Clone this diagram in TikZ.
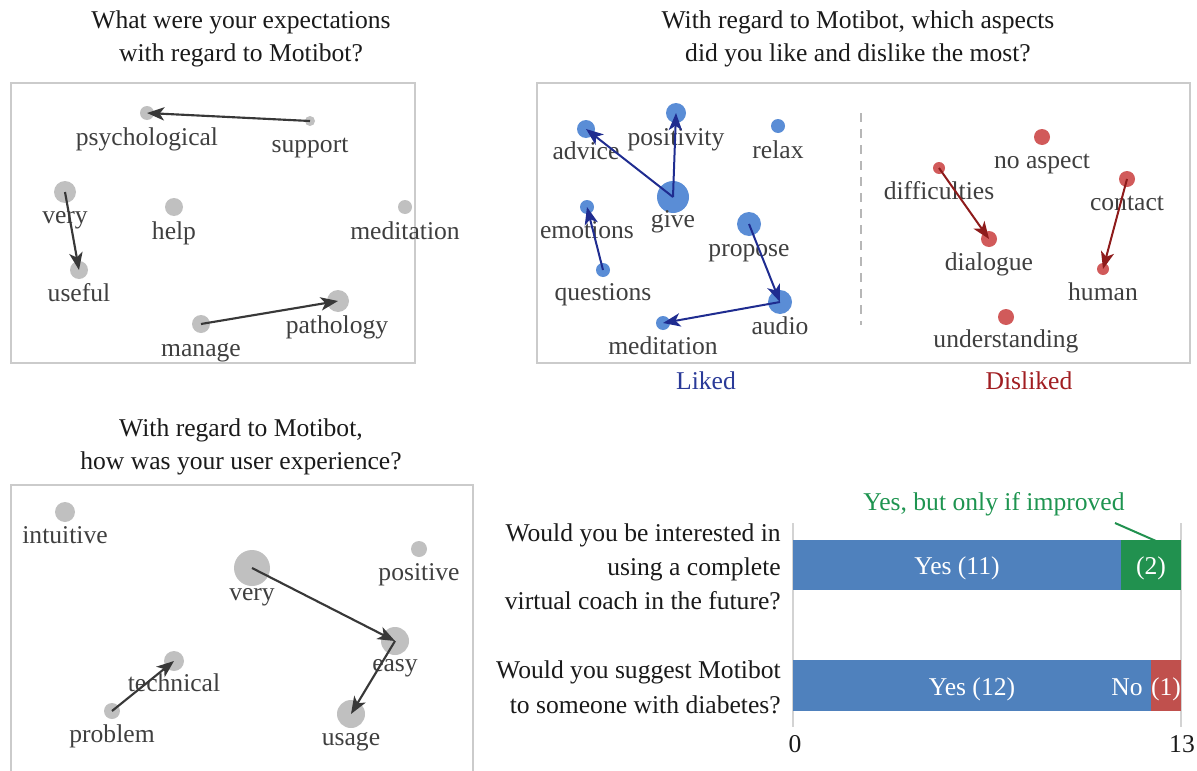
\documentclass[tikz,border=0pt]{standalone}
\usepackage{fontspec}
\setmainfont{Liberation Serif}
\usetikzlibrary{arrows.meta}
\definecolor{titlec}{HTML}{1A1A1A}
\definecolor{labelc}{HTML}{3F3F3F}
\definecolor{dotgray}{HTML}{C0C0C0}
\definecolor{arrgray}{HTML}{383838}
\definecolor{likedot}{HTML}{5A8DD6}
\definecolor{likearr}{HTML}{1F2C90}
\definecolor{likedtxt}{HTML}{2A3A98}
\definecolor{dislikedot}{HTML}{D15A5A}
\definecolor{dislikearr}{HTML}{8E1B1B}
\definecolor{dislikedtxt}{HTML}{A11E22}
\definecolor{boxc}{HTML}{CBCBCB}
\definecolor{barblue}{HTML}{4F81BD}
\definecolor{bargreen}{HTML}{21914F}
\definecolor{barred}{HTML}{C0504D}
\definecolor{greentxt}{HTML}{1E9450}
\definecolor{axisc}{HTML}{D3D3D3}
\newcommand\myfs{\fontsize{19.2pt}{24pt}\selectfont}
\begin{document}
\begin{tikzpicture}[x=0.75pt,y=-0.75pt,
  txt/.style={font=\myfs, inner sep=0pt, text height=0.69em, text depth=0.22em},
  ctxt/.style={txt, yshift=-3.6pt},
  ttl/.style={txt, text=titlec, anchor=base},
  lbl/.style={ctxt, text=labelc},
  qst/.style={txt, text=titlec, anchor=base east},
  wtxt/.style={ctxt, text=white},
  panel/.style={draw=boxc, line width=1.1pt},
  gdot/.style={circle, fill=dotgray, inner sep=0pt, minimum size=#1*1.5pt},
  ldot/.style={circle, fill=likedot, inner sep=0pt, minimum size=#1*1.5pt},
  ddot/.style={circle, fill=dislikedot, inner sep=0pt, minimum size=#1*1.5pt},
  tip/.style={-{Stealth[length=13pt,width=10pt,inset=3.5pt]}},
  garr/.style={draw=arrgray, line width=1.6pt, tip},
  larr/.style={draw=likearr, line width=1.5pt, tip},
  darr/.style={draw=dislikearr, line width=1.5pt, tip},
]
\useasboundingbox (0,0) rectangle (1197,771);

% ---------------- Titles ----------------
\node[ttl] (t1a) at (241,28) {What were your expectations};
\node[ttl] (t1b) at (241,61) {with regard to Motibot?};
\node[ttl] (t2a) at (858,28) {With regard to Motibot, which aspects};
\node[ttl] (t2b) at (858,61) {did you like and dislike the most?};
\node[ttl] (t3a) at (241,436) {With regard to Motibot,};
\node[ttl] (t3b) at (241,469) {how was your user experience?};

% ---------------- Panel 1: expectations ----------------
\draw[panel] (11,83) rectangle (415,363);
\node[gdot=7]  (p1psy)  at (147,113) {};
\node[gdot=5]  (p1sup)  at (310,121) {};
\node[gdot=11] (p1very) at (65,192) {};
\node[gdot=9]  (p1help) at (174,207) {};
\node[gdot=7]  (p1med)  at (405,207) {};
\node[gdot=9]  (p1use)  at (79,270) {};
\node[gdot=9]  (p1man)  at (201,324) {};
\node[gdot=11] (p1path) at (338,301) {};
\node[lbl] (l1psy)  at (147,138) {psychological};
\node[lbl] (l1sup)  at (310,145) {support};
\node[lbl] (l1very) at (65,216) {very};
\node[lbl] (l1help) at (174,232) {help};
\node[lbl] (l1med)  at (405,232) {meditation};
\node[lbl] (l1use)  at (79,294) {useful};
\node[lbl] (l1man)  at (201,349) {manage};
\node[lbl] (l1path) at (337,326) {pathology};
\draw[garr] (p1sup.center) -- (p1psy.center);
\draw[garr] (p1very.center) -- (p1use.center);
\draw[garr] (p1man.center) -- (p1path.center);

% ---------------- Panel 2: liked / disliked ----------------
\draw[panel] (537,83) rectangle (1190,363);
\draw[draw=boxc!90!black, line width=1.1pt, dash pattern=on 7pt off 5pt] (861,113) -- (861,325);
% liked
\node[ldot=9]  (p2adv)  at (586,129) {};
\node[ldot=10] (p2pos)  at (676,113) {};
\node[ldot=7]  (p2rel)  at (778,126) {};
\node[ldot=16] (p2give) at (673,197) {};
\node[ldot=7]  (p2emo)  at (587,207) {};
\node[ldot=12] (p2prop) at (749,224) {};
\node[ldot=7]  (p2que)  at (603,270) {};
\node[ldot=12] (p2aud)  at (780,302) {};
\node[ldot=7]  (p2med)  at (663,323) {};
\node[lbl] (l2adv)  at (586,152) {advice};
\node[lbl] (l2pos)  at (676,138) {positivity};
\node[lbl] (l2rel)  at (778,151) {relax};
\node[lbl] (l2give) at (673,220) {give};
\node[lbl] (l2emo)  at (587,231) {emotions};
\node[lbl] (l2prop) at (749,249) {propose};
\node[lbl] (l2que)  at (603,293) {questions};
\node[lbl] (l2aud)  at (780,327) {audio};
\node[lbl] (l2med)  at (663,347) {meditation};
\draw[larr] (p2give.center) -- (p2adv.center);
\draw[larr] (p2give.center) -- (p2pos.center);
\draw[larr] (p2que.center) -- (p2emo.center);
\draw[larr] (p2prop.center) -- (p2aud.center);
\draw[larr] (p2aud.center) -- (p2med.center);
% disliked
\node[ddot=8] (p2no)   at (1042,137) {};
\node[ddot=6] (p2diff) at (939,168) {};
\node[ddot=8] (p2cont) at (1127,179) {};
\node[ddot=8] (p2dia)  at (989,239) {};
\node[ddot=6] (p2hum)  at (1103,269) {};
\node[ddot=8] (p2und)  at (1006,317) {};
\node[lbl] (l2no)   at (1042,161) {no aspect};
\node[lbl] (l2diff) at (939,192) {difficulties};
\node[lbl] (l2cont) at (1127,203) {contact};
\node[lbl] (l2dia)  at (989,263) {dialogue};
\node[lbl] (l2hum)  at (1103,293) {human};
\node[lbl] (l2und)  at (1006,340) {understanding};
\draw[darr] (p2diff.center) -- (p2dia.center);
\draw[darr] (p2cont.center) -- (p2hum.center);
\node[ctxt, text=likedtxt] (liked) at (706,382) {Liked};
\node[ctxt, text=dislikedtxt] (disliked) at (1029,382) {Disliked};

% ---------------- Panel 3: user experience ----------------
\draw[panel] (11,485) rectangle (473,776);
\node[gdot=10] (p3int)  at (65,512) {};
\node[gdot=8]  (p3pos)  at (419,549) {};
\node[gdot=18] (p3very) at (252,568) {};
\node[gdot=14] (p3easy) at (395,641) {};
\node[gdot=10] (p3tech) at (174,661) {};
\node[gdot=8]  (p3prob) at (112,711) {};
\node[gdot=14] (p3use)  at (351,714) {};
\node[lbl] (l3int)  at (65,536) {intuitive};
\node[lbl] (l3pos)  at (419,573) {positive};
\node[lbl] (l3very) at (252,593) {very};
\node[lbl] (l3easy) at (395,664) {easy};
\node[lbl] (l3tech) at (174,684) {technical};
\node[lbl] (l3prob) at (112,735) {problem};
\node[lbl] (l3use)  at (351,738) {usage};
\draw[garr] (p3very.center) -- (p3easy.center);
\draw[garr] (p3easy.center) -- (p3use.center);
\draw[garr] (p3prob.center) -- (p3tech.center);

% ---------------- Panel 4: bar chart ----------------
\draw[axisc, line width=1.2pt] (1181,523) -- (1181,727);
\draw[axisc, line width=1.2pt] (793,523) -- (793,727);
\fill[barblue]  (793,540) rectangle (1121,590);
\fill[bargreen] (1121,540) rectangle (1181,590);
\fill[barblue]  (793,660) rectangle (1151,711);
\fill[barred]   (1151,660) rectangle (1181,711);
\node[wtxt] (b1yes) at (957,567) {Yes (11)};
\node[wtxt] (b1imp) at (1151,567) {(2)};
\node[wtxt] (b2yes) at (972,688) {Yes (12)};
\node[wtxt] (b2no)  at (1127,688) {No};
\node[wtxt] (b2one) at (1166,688) {(1)};
\node[ctxt, text=greentxt] (impr) at (994,503) {Yes, but only if improved};
\coordinate (leadA) at (1115,523);
\coordinate (leadB) at (1156,541);
\draw[bargreen, line width=1.5pt] (leadA) -- (leadB);
\node[qst] (q1a) at (781,541) {Would you be interested in};
\node[qst] (q1b) at (781,575) {using a complete};
\node[qst] (q1c) at (781,609) {virtual coach in the future?};
\node[qst] (q2a) at (781,678) {Would you suggest Motibot};
\node[qst] (q2b) at (781,713) {to someone with diabetes?};
\node[ctxt, text=titlec] (ax0)  at (795,745) {0};
\node[ctxt, text=titlec] (ax13) at (1182,745) {13};
\end{tikzpicture}
\end{document}
